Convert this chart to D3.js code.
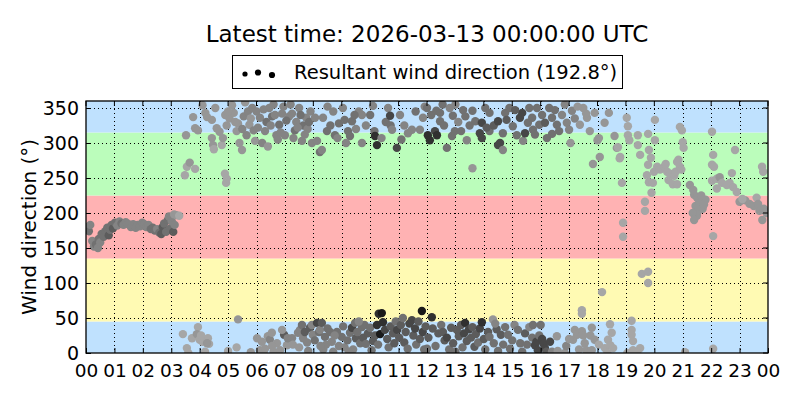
<!DOCTYPE html>
<html>
<head>
<meta charset="utf-8">
<script src="https://cdn.jsdelivr.net/npm/d3@7"></script>
<style>
  html, body { margin: 0; padding: 0; background: #fff; }
  svg { display: block; font-family: "DejaVu Sans", sans-serif; }
</style>
</head>
<body>
<svg id="chart" width="800" height="400"></svg>
<script>
// ---------------- data ----------------
const titleText = "Latest time: 2026-03-13 00:00:00 UTC";
const legendLabel = "Resultant wind direction (192.8°)";
const yTicks = [0, 50, 100, 150, 200, 250, 300, 350];
const xTickHours = d3.range(0, 25);
const xTickLabels = ["00","01","02","03","04","05","06","07","08","09","10","11","12","13","14","15","16","17","18","19","20","21","22","23","00"];

// direction sectors [from, to, colour]
const sectorFrom = [0, 45, 135, 225, 315];
const sectorTo = [45, 135, 225, 315, 360];
const sectorColors = ["#bfe1fe", "#fffab3", "#ffb2b3", "#bbfdbb", "#bfe1fe"];

// observations: [hour of day, direction (deg), speed class 1..9]
const obs00to04 = [
[0.05,180,4],[0.1,174,5],[0.15,183,4],[0.22,160,4],[0.28,152,4],[0.35,155,5],[0.42,150,4],[0.45,163,5],[0.5,158,4],[0.55,170,5],
[0.62,166,5],[0.68,174,5],[0.75,179,5],[0.8,168,6],[0.85,176,5],[0.9,183,5],[0.95,178,6],[1.02,186,5],[1.1,182,4],[1.18,188,4],
[1.25,185,5],[1.32,183,4],[1.4,187,4],[1.5,184,4],[1.58,180,4],[1.66,184,4],[1.75,179,4],[1.82,183,4],[1.9,181,4],[1.98,186,4],
[2.05,184,4],[2.12,180,4],[2.2,183,4],[2.28,177,5],[2.35,179,5],[2.42,175,5],[2.5,177,4],[2.58,172,5],[2.65,170,6],[2.7,180,6],
[2.75,185,5],[2.82,173,5],[2.88,190,5],[2.92,195,4],[2.97,178,5],[3.02,188,4],[3.07,173,6],[3.1,198,3],[3.18,197,3],[3.28,196,2],[3.12,183,4],
[3.52,311,3],[3.55,266,2],[3.48,254,2],[3.65,272,3],[3.84,263,2],[3.77,337,3],[3.84,321,3],[3.94,318,3],
[3.41,27,2],[3.55,7,2],[3.6,0,2],[3.73,21,2],[3.94,37,2],[3.9,27,3],[4.0,19,2],[4.1,16,2],[4.19,2,2],[4.29,21,2],[4.33,13,2],[4.26,14,3],[4.05,25,2]
];
const obs04to08 = [
[4.1,354,3],[4.2,343,3],[4.26,337,3],[4.43,333,3],[4.43,307,3],[4.47,297,3],[4.5,291,2],[4.55,350,3],[4.6,321,3],[4.7,316,3],
[4.78,297,2],[4.82,307,3],[4.9,340,3],[4.95,325,3],[4.89,256,2],[4.93,243,2],[4.95,249,2],
[5.05,335,3],[5.14,354,3],[5.2,343,3],[5.3,317,3],[5.35,328,3],[5.4,300,3],[5.49,290,3],[5.55,338,4],[5.6,358,3],[5.65,311,4],
[5.7,345,4],[5.75,326,3],[5.85,350,4],[5.9,318,4],[5.95,303,3],
[6.05,322,4],[6.12,336,4],[6.2,300,4],[6.3,317,4],[6.35,330,5],[6.4,295,3],[6.45,350,4],[6.55,338,5],[6.6,355,4],[6.7,311,4],
[6.75,305,4],[6.8,326,5],[6.9,342,4],[7.0,311,4],
[7.15,338,4],[7.2,355,4],[7.3,307,4],[7.35,318,5],[7.4,330,4],[7.5,350,4],[7.6,303,4],[7.65,325,5],[7.75,336,4],[7.8,320,4],[7.9,345,4],[7.95,300,4],
[5.0,345,3],[5.25,330,3],[5.5,320,4],[5.8,335,3],[6.0,345,4],[6.25,348,4],[6.5,325,4],[6.65,340,4],[6.85,315,4],[6.95,352,4],
[7.05,332,5],[7.25,342,4],[7.45,322,4],[7.55,340,5],[7.7,312,4],[7.85,330,5],
[5.0,3,2],[5.3,8,2],[5.35,48,3],[6.02,21,3],[6.12,4,3],[6.19,16,3],[6.25,1,3],[6.4,24,3],[6.47,19,4],[6.54,29,3],[6.6,2,3],
[6.72,14,3],[6.83,4,3],[6.97,26,6],[7.07,11,3],[7.1,21,4],[7.25,21,4],[7.28,12,3],[7.46,29,4],[7.5,8,3],[7.53,33,4],[7.6,40,5],
[7.64,21,4],[7.7,30,6],[7.78,15,4],[7.82,3,4],[7.88,36,6],[7.95,40,4],[7.98,26,4],[6.3,6,3],[6.55,10,3],[6.9,33,3],[5.8,1,3]
];
const obs08to12 = [
[8.06,336,4],[8.13,303,4],[8.23,287,5],[8.3,290,4],[8.34,336,4],[8.48,317,5],[8.6,325,5],[8.76,311,5],[8.85,307,4],[8.7,345,4],
[8.9,328,5],[9.04,350,4],[9.1,333,5],[9.22,317,5],[9.29,310,5],[9.36,331,5],[9.5,320,4],[9.6,345,4],[9.71,340,4],[9.71,300,4],
[9.85,325,4],[10.0,340,5],[10.1,353,4],[10.15,317,5],[10.17,310,8],[10.24,297,8],[10.4,307,4],[10.55,330,5],[10.63,350,4],[10.7,339,7],
[10.72,325,5],[10.77,319,4],[10.94,293,7],[11.05,340,4],[11.2,325,4],[11.33,314,4],[11.47,319,4],[11.6,345,5],[11.75,319,4],[11.86,336,4],
[11.92,352,4],[12.0,350,5],[9.15,300,4],[9.45,340,5],[8.5,352,4],[11.1,305,5],
[8.05,18,5],[8.13,43,7],[8.2,30,5],[8.23,33,4],[8.3,43,6],[8.35,5,4],[8.41,23,5],[8.45,12,4],[8.5,35,5],[8.59,30,5],[8.65,16,4],
[8.7,2,4],[8.83,30,5],[8.9,10,4],[9.0,23,5],[9.05,38,5],[9.1,8,4],[9.2,18,5],[9.29,29,5],[9.36,36,7],[9.4,5,4],[9.47,43,5],
[9.5,21,6],[9.55,30,5],[9.65,14,5],[9.71,37,5],[9.75,22,6],[9.8,40,5],[9.85,13,5],[9.92,28,6],[10.0,36,5],[10.05,4,5],[10.1,17,6],
[10.17,25,6],[10.24,40,8],[10.28,12,5],[10.3,56,8],[10.35,27,9],[10.41,57,9],[10.45,44,8],[10.52,33,7],[10.6,20,6],[10.65,8,5],
[10.72,38,6],[10.8,28,6],[10.85,14,6],[10.9,45,5],[10.95,33,7],[11.02,22,6],[11.08,40,6],[11.15,50,5],[11.2,15,6],[11.25,30,6],
[11.32,6,5],[11.38,42,7],[11.47,47,7],[11.52,25,6],[11.58,35,7],[11.62,12,5],[11.7,45,6],[11.75,20,6],[11.82,60,9],[11.85,30,7],
[11.9,5,5],[11.95,38,6],[8.25,10,4],[8.75,25,4],[9.25,2,4],[9.6,45,4]
];
const obs12to16 = [
[12.03,311,8],[12.1,304,8],[12.15,340,5],[12.28,317,7],[12.35,311,8],[12.33,346,5],[12.46,343,5],[12.46,331,5],[12.6,325,5],[12.7,293,5],
[12.8,350,4],[12.88,310,5],[12.91,339,5],[12.98,317,5],[13.1,330,4],[13.2,317,5],[13.27,347,5],[13.4,304,4],[13.5,325,5],[13.6,346,5],
[13.6,264,3],[13.7,331,5],[13.86,314,7],[13.93,329,7],[13.93,307,7],[14.05,350,5],[14.2,317,5],[14.2,343,5],[14.35,325,6],[14.5,331,7],
[14.5,297,7],[14.57,300,7],[14.67,290,4],[14.67,314,5],[14.75,343,5],[14.9,350,5],[15.02,324,5],[15.16,311,5],[15.27,336,7],[15.35,343,7],
[15.38,303,4],[15.45,314,7],[15.55,329,5],[15.7,336,5],[15.73,319,5],[15.87,350,5],[15.95,326,5],[12.55,355,5],[13.0,355,4],[13.35,338,5],
[14.1,322,6],[14.8,333,6],[15.1,347,6],[15.6,350,5],[15.8,312,5],
[12.05,22,6],[12.17,51,8],[12.2,35,6],[12.3,10,5],[12.4,28,6],[12.5,40,5],[12.56,30,6],[12.62,18,6],[12.7,22,7],[12.78,5,5],
[12.85,36,6],[12.92,14,6],[13.05,33,6],[13.12,24,6],[13.2,40,6],[13.25,8,5],[13.3,28,7],[13.34,43,8],[13.4,17,6],[13.48,34,7],
[13.55,22,6],[13.6,37,6],[13.67,9,6],[13.72,27,6],[13.8,15,5],[13.86,35,7],[13.93,44,8],[14.0,20,6],[14.05,5,5],[14.15,30,6],
[14.2,23,5],[14.32,48,3],[14.35,14,5],[14.45,34,6],[14.5,3,5],[14.6,26,6],[14.68,12,5],[14.75,37,5],[14.85,26,5],[14.92,6,5],
[15.0,18,5],[15.08,40,4],[15.2,33,5],[15.28,14,5],[15.35,2,5],[15.45,28,6],[15.52,12,5],[15.6,37,4],[15.73,40,5],[15.7,22,5],
[15.8,11,7],[15.85,16,7],[15.9,4,7],[15.95,25,5],[12.0,6,5],[13.0,2,5],[14.4,42,4]
];
const obs16to20 = [
[16.05,340,5],[16.15,329,6],[16.22,307,5],[16.3,350,5],[16.4,336,5],[16.5,347,5],[16.57,326,5],[16.65,317,5],[16.75,340,4],[16.92,329,4],
[17.0,319,4],[17.1,346,4],[17.2,335,4],[17.38,326,3],[17.5,350,3],[17.63,336,3],[17.73,317,3],[17.84,270,3],[17.9,343,3],[18.0,304,3],
[18.05,307,3],[18.08,280,3],[18.25,329,3],[18.4,343,3],[18.6,310,3],[18.68,293,3],[18.72,294,2],[18.8,280,2],[18.78,278,2],
[18.86,243,2],[18.9,186,2],[18.9,166,2],[19.03,336,2],[19.07,324,2],[19.07,311,2],[19.12,304,2],[19.42,311,2],[19.42,297,2],[19.5,283,2],
[19.78,313,2],[19.81,290,2],[19.88,279,2],[19.78,269,2],[19.74,254,2],[19.81,244,2],[19.67,216,2],[19.67,203,2],[19.9,229,2],[19.95,243,2],
[19.99,259,2],[16.85,355,4],[17.3,352,3],[17.6,342,3],[16.4,313,5],[17.05,300,3],
[19.56,113,2],[19.78,116,2],[19.78,100,2],[18.16,87,2],[17.45,61,2],[17.45,56,2],[19.2,46,2],
[16.0,40,5],[16.05,20,7],[16.1,13,7],[16.15,7,7],[16.2,2,6],[16.33,16,7],[16.4,2,4],[16.57,24,3],[16.6,3,3],[16.85,0,3],
[17.14,19,3],[17.2,33,3],[17.28,26,3],[17.35,5,3],[17.45,31,3],[17.5,25,3],[17.55,14,3],[17.6,4,3],[17.65,0,3],[17.8,36,3],
[17.75,25,3],[17.9,19,3],[17.8,4,3],[18.05,12,2],[18.26,7,2],[18.37,19,2],[18.44,41,2],[18.5,29,2],[18.45,11,2],[18.35,0,2],
[18.55,7,2],[19.2,33,2],[19.2,26,2],[19.25,17,2],[19.25,4,2],[19.5,7,2],[19.4,0,2],[19.05,0,2],[16.9,10,4],[17.0,20,3]
];
const obs20to24 = [
[20.02,333,2],[20.02,304,2],[20.1,266,2],[20.2,262,2],[20.35,266,2],[20.4,270,2],[20.45,259,2],[20.5,247,2],[20.55,256,2],[20.65,241,2],
[20.7,253,2],[20.75,259,2],[20.8,273,2],[20.8,241,2],[20.85,276,2],[20.9,266,2],[20.95,262,2],[20.9,323,2],[20.97,318,2],[21.0,301,2],
[21.03,293,2],[21.25,240,3],[21.37,233,3],[21.4,226,3],[21.45,210,3],[21.5,222,3],[21.5,196,3],[21.55,220,3],[21.55,203,3],[21.6,214,3],
[21.35,200,3],[21.4,190,3],[21.7,206,3],[21.75,212,3],[21.8,219,3],[21.65,225,3],[21.08,1,2],
[22.03,316,2],[22.07,283,2],[22.03,269,2],[22.1,266,2],[22.03,246,2],[22.2,249,2],[22.3,251,3],[22.38,243,2],[22.55,240,2],[22.65,243,2],
[22.77,237,2],[22.9,230,2],[22.73,257,2],[22.84,290,2],[23.0,216,3],[23.2,218,3],[23.35,213,3],[23.5,210,3],[23.6,222,2],[23.65,213,3],
[23.7,203,3],[23.85,206,3],[23.8,190,3],[23.79,266,2],[23.83,259,2],[22.07,167,2],[22.07,6,2],[22.2,235,2],[23.1,220,2],[23.95,200,3]
];

// ---------------- chart ----------------
const W = 800, H = 400;
const margin = { left: 86, right: 32, top: 101, bottom: 47 };
const svg = d3.select("#chart");

const x = d3.scaleLinear().domain([0, 24]).range([margin.left, W - margin.right]);
const y = d3.scaleLinear().domain([0, 360]).range([H - margin.bottom, margin.top]);
const shadeT = d3.scalePow().exponent(1.3).domain([1, 9]).range([0, 1]);
const shadeC = d3.scaleLinear().domain([0, 1]).range(["#b4b4b4", "#191919"]);
const shade = s => shadeC(shadeT(s));

const pw = x(24) - x(0), ph = y(0) - y(360);

svg.append("defs").append("clipPath").attr("id", "plotclip")
  .append("rect").attr("x", x(0)).attr("y", y(360)).attr("width", pw).attr("height", ph);

// sectors
svg.append("g").selectAll("rect").data(sectorFrom).join("rect")
  .attr("x", x(0)).attr("width", pw)
  .attr("y", (d, i) => y(sectorTo[i]))
  .attr("height", (d, i) => y(d) - y(sectorTo[i]))
  .attr("fill", (d, i) => sectorColors[i]);

// grid
const grid = svg.append("g").attr("stroke", "#000").attr("stroke-width", 1).attr("stroke-dasharray", "1,3");
grid.selectAll("line.v").data(xTickHours.slice(1, -1)).join("line")
  .attr("x1", d => Math.round(x(d)) + 0.5).attr("x2", d => Math.round(x(d)) + 0.5)
  .attr("y1", y(360)).attr("y2", y(0));
grid.selectAll("line.h").data(yTicks.slice(1)).join("line")
  .attr("y1", d => Math.round(y(d)) + 0.5).attr("y2", d => Math.round(y(d)) + 0.5)
  .attr("x1", x(0)).attr("x2", x(24));

// points
const allObs = [].concat(obs00to04, obs04to08, obs08to12, obs12to16, obs16to20, obs20to24);
svg.append("g").attr("clip-path", "url(#plotclip)")
  .selectAll("circle").data(allObs).join("circle")
  .attr("cx", d => x(d[0])).attr("cy", d => y(d[1])).attr("r", 4.2)
  .attr("fill", d => shade(d[2]));

// axes
const xAxis = d3.axisBottom(x).tickValues(xTickHours).tickFormat((d, i) => xTickLabels[i]).tickSizeInner(-5).tickSizeOuter(0).tickPadding(11);
const yAxis = d3.axisLeft(y).tickValues(yTicks).tickSizeInner(-5).tickSizeOuter(0).tickPadding(7);
const gx = svg.append("g").attr("transform", `translate(0,${y(0)})`).call(xAxis);
const gy = svg.append("g").attr("transform", `translate(${x(0)},0)`).call(yAxis);
[gx, gy].forEach(g => {
  g.select(".domain").remove();
  g.selectAll("text").attr("fill", "#000").attr("font-family", "DejaVu Sans");
  g.selectAll("line").attr("stroke", "#000");
});
gx.selectAll("text").attr("font-size", 18.5);
gy.selectAll("text").attr("font-size", 19);
// mirrored ticks on top / right
svg.append("g").selectAll("line").data(xTickHours).join("line")
  .attr("x1", d => x(d)).attr("x2", d => x(d)).attr("y1", y(360)).attr("y2", y(360) + 5).attr("stroke", "#000");
svg.append("g").selectAll("line").data(yTicks).join("line")
  .attr("y1", d => y(d)).attr("y2", d => y(d)).attr("x1", x(24)).attr("x2", x(24) - 5).attr("stroke", "#000");

// frame
svg.append("rect").attr("x", x(0)).attr("y", y(360)).attr("width", pw).attr("height", ph)
  .attr("fill", "none").attr("stroke", "#000").attr("stroke-width", 1.3);

// y label
svg.append("text").attr("transform", `translate(36,${(y(0) + y(360)) / 2}) rotate(-90)`)
  .attr("text-anchor", "middle").attr("font-size", 20).text("Wind direction (°)");

// title
svg.append("text").attr("x", (x(0) + x(24)) / 2).attr("y", 42).attr("text-anchor", "middle")
  .attr("font-size", 23).text(titleText);

// legend
const lg = svg.append("g");
lg.append("rect").attr("x", 232.5).attr("y", 55.5).attr("width", 390).attr("height", 33)
  .attr("fill", "#fff").attr("stroke", "#000").attr("stroke-width", 1);
const legendDotX = [245, 258, 272], legendDotY = [74, 72.5, 75], legendDotR = [2.6, 3.1, 3.1];
lg.selectAll("circle").data(legendDotX).join("circle")
  .attr("cx", d => d).attr("cy", (d, i) => legendDotY[i]).attr("r", (d, i) => legendDotR[i]).attr("fill", "#000");
lg.append("text").attr("x", 294).attr("y", 79).attr("font-size", 19.5).text(legendLabel);
</script>
</body>
</html>
